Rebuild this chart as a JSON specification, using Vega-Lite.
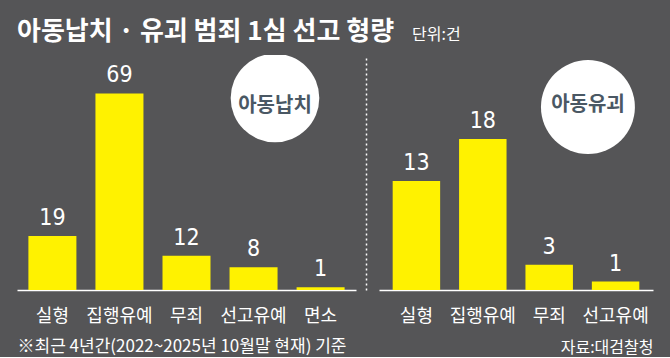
{
  "$schema": "https://vega.github.io/schema/vega-lite/v6.json",
  "background": "#555557",
  "padding": {"left": 17, "right": 17, "top": 19, "bottom": 2},
  "bounds": "flush",
  "spacing": 23,
  "config": {
    "view": {"stroke": null},
    "font": "Noto Sans CJK KR"
  },
  "datasets": {
    "left": [
      {"category": "실형", "count": 19},
      {"category": "집행유예", "count": 69},
      {"category": "무죄", "count": 12},
      {"category": "선고유예", "count": 8},
      {"category": "면소", "count": 1}
    ],
    "right": [
      {"category": "실형", "count": 13},
      {"category": "집행유예", "count": 18},
      {"category": "무죄", "count": 3},
      {"category": "선고유예", "count": 1}
    ],
    "badgeL": [{"name": "아동납치", "pos": 3.805, "level": 67.4, "textLevel": 64.6}],
    "badgeR": [{"name": "아동유괴", "pos": 3.05, "level": 21.8, "textLevel": 22.0}]
  },
  "hconcat": [
    {
      "width": 339,
      "height": 235,
      "title": {"text": "아동납치 · 유괴 범죄 1심 선고 형량", "anchor": "start", "baseline": "alphabetic", "offset": -11, "fontSize": 26, "fontWeight": "bold", "color": "#ffffff", "font": "Noto Sans CJK KR"},
      "layer": [
        {
          "data": {"name": "left"},
          "encoding": {
            "x": {"field": "category", "type": "nominal", "sort": null,
              "scale": {"paddingInner": 0.284, "paddingOuter": 0.17},
              "axis": {"title": "※최근 4년간(2022~2025년 10월말 현재) 기준", "titleAnchor": "start", "titleAlign": "left", "titleColor": "#ffffff", "titleFontSize": 17, "titleFontWeight": "normal", "titlePadding": 13, "titleFont": "Noto Sans CJK KR",
                "labelColor": "#ffffff", "labelFontSize": 18, "labelPadding": 17, "labelAngle": 0, "labelBaseline": "top", "labelFont": "Noto Sans CJK KR",
                "ticks": false, "domainColor": "#ffffff", "domainWidth": 1.5}},
            "y": {"field": "count", "type": "quantitative", "scale": {"domain": [0, 82.5]},
              "axis": {"orient": "right", "offset": 10, "domainColor": "#ffffff", "domainDash": [2, 3], "domainWidth": 1.5, "ticks": false, "labels": false, "grid": false, "title": null}}
          },
          "layer": [
            {"mark": {"type": "bar", "color": "#fff200"}},
            {"mark": {"type": "text", "dy": -11, "baseline": "alphabetic", "fontSize": 23, "font": "Liberation Sans Narrow, DejaVu Sans Condensed, sans-serif", "color": "#ffffff"},
             "encoding": {"text": {"field": "count", "type": "quantitative"}}}
          ]
        },
        {
          "data": {"name": "badgeL"},
          "encoding": {"x": {"field": "pos", "type": "quantitative", "scale": {"domain": [0, 5]}, "axis": null}},
          "layer": [
            {"mark": {"type": "circle", "size": 7854, "color": "#ffffff", "opacity": 1, "clip": true},
             "encoding": {"y": {"field": "level", "type": "quantitative", "scale": {"domain": [0, 82.5]}}}},
            {"mark": {"type": "text", "fontSize": 20, "fontWeight": "bold", "color": "#4a5864", "font": "Noto Sans CJK KR"},
             "encoding": {"y": {"field": "textLevel", "type": "quantitative", "scale": {"domain": [0, 82.5]}}, "text": {"field": "name"}}}
          ]
        }
      ],
      "resolve": {"scale": {"x": "independent"}}
    },
    {
      "width": 274,
      "height": 235,
      "title": {"text": "단위:건", "anchor": "start", "dx": 33, "baseline": "alphabetic", "offset": -1, "fontSize": 16, "fontWeight": "normal", "color": "#ffffff", "font": "Noto Sans CJK KR"},
      "layer": [
        {
          "data": {"name": "right"},
          "encoding": {
            "x": {"field": "category", "type": "nominal", "sort": null,
              "scale": {"paddingInner": 0.285, "paddingOuter": 0.206},
              "axis": {"title": "자료:대검찰청", "titleAnchor": "end", "titleAlign": "right", "titleColor": "#ffffff", "titleFontSize": 16, "titleFontWeight": "normal", "titlePadding": 14, "titleFont": "Noto Sans CJK KR",
                "labelColor": "#ffffff", "labelFontSize": 18, "labelPadding": 17, "labelAngle": 0, "labelBaseline": "top", "labelFont": "Noto Sans CJK KR",
                "ticks": false, "domainColor": "#ffffff", "domainWidth": 1.5}},
            "y": {"field": "count", "type": "quantitative", "scale": {"domain": [0, 28]}, "axis": null}
          },
          "layer": [
            {"mark": {"type": "bar", "color": "#fff200"}},
            {"mark": {"type": "text", "dy": -11, "baseline": "alphabetic", "fontSize": 23, "font": "Liberation Sans Narrow, DejaVu Sans Condensed, sans-serif", "color": "#ffffff"},
             "encoding": {"text": {"field": "count", "type": "quantitative"}}}
          ]
        },
        {
          "data": {"name": "badgeR"},
          "encoding": {"x": {"field": "pos", "type": "quantitative", "scale": {"domain": [0, 4]}, "axis": null}},
          "layer": [
            {"mark": {"type": "circle", "size": 8825, "color": "#ffffff", "opacity": 1, "clip": true},
             "encoding": {"y": {"field": "level", "type": "quantitative", "scale": {"domain": [0, 28]}, "axis": null}}},
            {"mark": {"type": "text", "fontSize": 20, "fontWeight": "bold", "color": "#4a5864", "font": "Noto Sans CJK KR"},
             "encoding": {"y": {"field": "textLevel", "type": "quantitative", "scale": {"domain": [0, 28]}, "axis": null}, "text": {"field": "name"}}}
          ]
        }
      ],
      "resolve": {"scale": {"x": "independent"}}
    }
  ]
}
